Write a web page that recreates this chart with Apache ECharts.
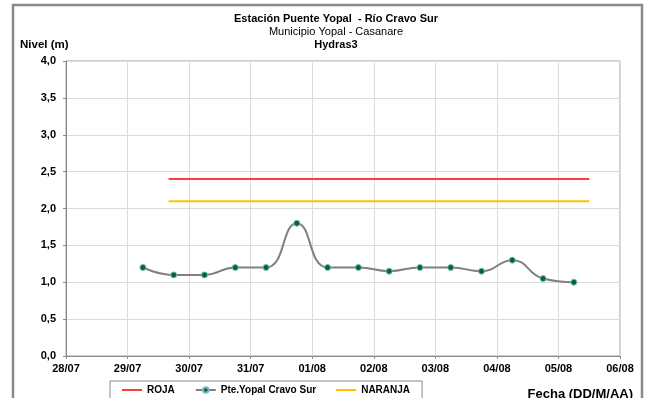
<!DOCTYPE html>
<html><head><meta charset="utf-8">
<script src="https://cdn.jsdelivr.net/npm/echarts@6/dist/echarts.min.js"></script>
<style>html,body{margin:0;padding:0;background:#fff}#c{width:650px;height:398px}</style>
</head><body><div id="c"></div>
<script>
var titleMain = 'Estación Puente Yopal  - Río Cravo Sur';
var titleSub1 = 'Municipio Yopal - Casanare';
var titleSub2 = 'Hydras3';
var yName = 'Nivel (m)';
var xName = 'Fecha (DD/M/AA)';
var seriesNames = ['ROJA', 'Pte.Yopal Cravo Sur', 'NARANJA'];
var year = 2019;
var axisStart = '28/07 00:00';
var axisEnd = '06/08 00:00';
var levelTimes = ['29/07 06:00','29/07 18:00','30/07 06:00','30/07 18:00','31/07 06:00','31/07 18:00',
  '01/08 06:00','01/08 18:00','02/08 06:00','02/08 18:00','03/08 06:00','03/08 18:00',
  '04/08 06:00','04/08 18:00','05/08 06:00'];
var levelValues = [1.2,1.1,1.1,1.2,1.2,1.8,1.2,1.2,1.15,1.2,1.2,1.15,1.3,1.05,1.0];
var alertTimes = ['29/07 16:00','05/08 12:00'];
var rojaValue = 2.4;
var naranjaValue = 2.1;

function ts(s){
  var p = s.split(' '), d = p[0].split('/'), t = p[1].split(':');
  return Date.UTC(year, +d[1]-1, +d[0], +t[0], +t[1]);
}
function pad(n){return (n<10?'0':'')+n;}
var DAY = 86400000;
var lineIcon = 'path://M0,0 L20,0 L20,2 L0,2 Z';

var chart = echarts.init(document.getElementById('c'), null, {renderer:'canvas'});
var F = 'Liberation Sans, Arial, sans-serif';
chart.setOption({
  animation:false,
  textStyle:{fontFamily:F},
  title:[
    {text:titleMain, left:331, textAlign:'center', top:8, textStyle:{fontSize:11, fontWeight:'bold', color:'#000', fontFamily:F}},
    {text:titleSub1, left:331, textAlign:'center', top:21, textStyle:{fontSize:11, fontWeight:'normal', color:'#000', fontFamily:F}},
    {text:titleSub2, left:331, textAlign:'center', top:34, textStyle:{fontSize:11, fontWeight:'bold', color:'#000', fontFamily:F}},
    {text:yName, left:15, top:34, textStyle:{fontSize:11.5, fontWeight:'bold', color:'#000', fontFamily:F}},
    {text:xName, right:12, top:383, textStyle:{fontSize:13, fontWeight:'bold', color:'#000', fontFamily:F}}
  ],
  graphic:[{type:'rect', shape:{x:13, y:5, width:629, height:400}, style:{fill:'none', stroke:'#8a8a8a', lineWidth:2.5}, silent:true}],
  legend:{
    data:[{name:seriesNames[0], icon:lineIcon}, {name:seriesNames[1]}, {name:seriesNames[2], icon:lineIcon}],
    left:110, top:381, width:300,
    itemWidth:20, itemHeight:7, itemGap:20,
    borderColor:'#8a8a8a', borderWidth:1, padding:[4,12,10,12],
    textStyle:{fontSize:10, fontWeight:'bold', color:'#000', fontFamily:F}
  },
  grid:{left:66, right:30, top:61, bottom:42, show:true, borderColor:'#a0a0a0', borderWidth:1},
  xAxis:{
    type:'value', min:ts(axisStart), max:ts(axisEnd), interval:DAY,
    axisLine:{show:true, onZero:false, lineStyle:{color:'#8a8a8a'}},
    axisTick:{show:true, length:3, lineStyle:{color:'#8a8a8a'}},
    splitLine:{show:true, lineStyle:{color:'#dcdcdc'}},
    axisLabel:{margin:7, fontSize:11, fontWeight:'bold', color:'#000', fontFamily:F,
      formatter:function(v){var d=new Date(v); return pad(d.getUTCDate())+'/'+pad(d.getUTCMonth()+1);}}
  },
  yAxis:{
    type:'value', min:0, max:4, interval:0.5,
    axisLine:{show:true, lineStyle:{color:'#8a8a8a'}},
    axisTick:{show:true, length:3, lineStyle:{color:'#8a8a8a'}},
    splitLine:{show:true, lineStyle:{color:'#dcdcdc'}},
    axisLabel:{margin:10, fontSize:11, fontWeight:'bold', color:'#000', fontFamily:F,
      formatter:function(v){return v.toFixed(1).replace('.',',');}}
  },
  series:[
    {name:seriesNames[0], type:'line', symbol:'none', data:alertTimes.map(function(t){return [ts(t), rojaValue];}),
      lineStyle:{color:'#ff3b3b', width:2}, itemStyle:{color:'#ff3b3b'}},
    {name:seriesNames[1], type:'line', smooth:0.5, symbol:'circle', symbolSize:6,
      data:levelTimes.map(function(t,i){return [ts(t), levelValues[i]];}),
      lineStyle:{color:'#808080', width:2}, itemStyle:{color:'#006b1e', borderColor:'#7fb3d5', borderWidth:1}},
    {name:seriesNames[2], type:'line', symbol:'none', data:alertTimes.map(function(t){return [ts(t), naranjaValue];}),
      lineStyle:{color:'#ffc000', width:2}, itemStyle:{color:'#ffc000'}}
  ]
});
</script></body></html>
